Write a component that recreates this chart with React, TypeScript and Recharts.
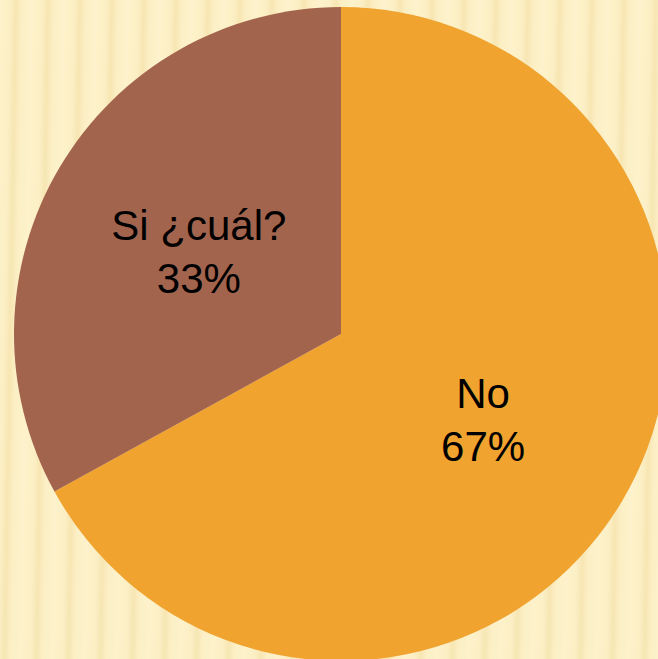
import React from "react";
import { Pie, PieChart, Cell } from "recharts";

const categories = ["No", "Si ¿cuál?"];
const values = [67, 33];
const colors = ["#F0A32F", "#A3644E"];

const data = categories.map((name, i) => ({ name, value: values[i] }));

const RADIAN = Math.PI / 180;

const renderLabel = (props: any) => {
  const { cx, cy, midAngle, outerRadius, name, percent } = props;
  const r = outerRadius * 0.505;
  const x = cx + r * Math.cos(-midAngle * RADIAN);
  const y = cy + r * Math.sin(-midAngle * RADIAN);
  return (
    <text
      x={x}
      y={y - 10}
      fill="#000"
      textAnchor="middle"
      fontSize={42}
      fontFamily="'Liberation Sans', Arial, sans-serif"
    >
      <tspan x={x} y={y - 10}>{name}</tspan>
      <tspan x={x} dy={53}>{`${Math.round(percent * 100)}%`}</tspan>
    </text>
  );
};

export default function App() {
  return (
    <div
      style={{
        position: "fixed",
        left: 0,
        top: 0,
        width: 658,
        height: 659,
        background:
          "repeating-linear-gradient(91deg, #FDF2CB 0px, #FCEFC5 10px, #F7E6B3 16px, #FCEFC5 22px, #FDF2CB 32px)",
      }}
    >
      <PieChart width={658} height={659} margin={{ top: 0, right: 0, bottom: 0, left: 0 }}>
        <Pie
          data={data}
          dataKey="value"
          nameKey="name"
          cx={341}
          cy={334}
          outerRadius={327}
          startAngle={90}
          endAngle={-270}
          stroke="none"
          label={renderLabel}
          labelLine={false}
          isAnimationActive={false}
        >
          {data.map((d, i) => (
            <Cell key={d.name} fill={colors[i]} />
          ))}
        </Pie>
      </PieChart>
    </div>
  );
}
